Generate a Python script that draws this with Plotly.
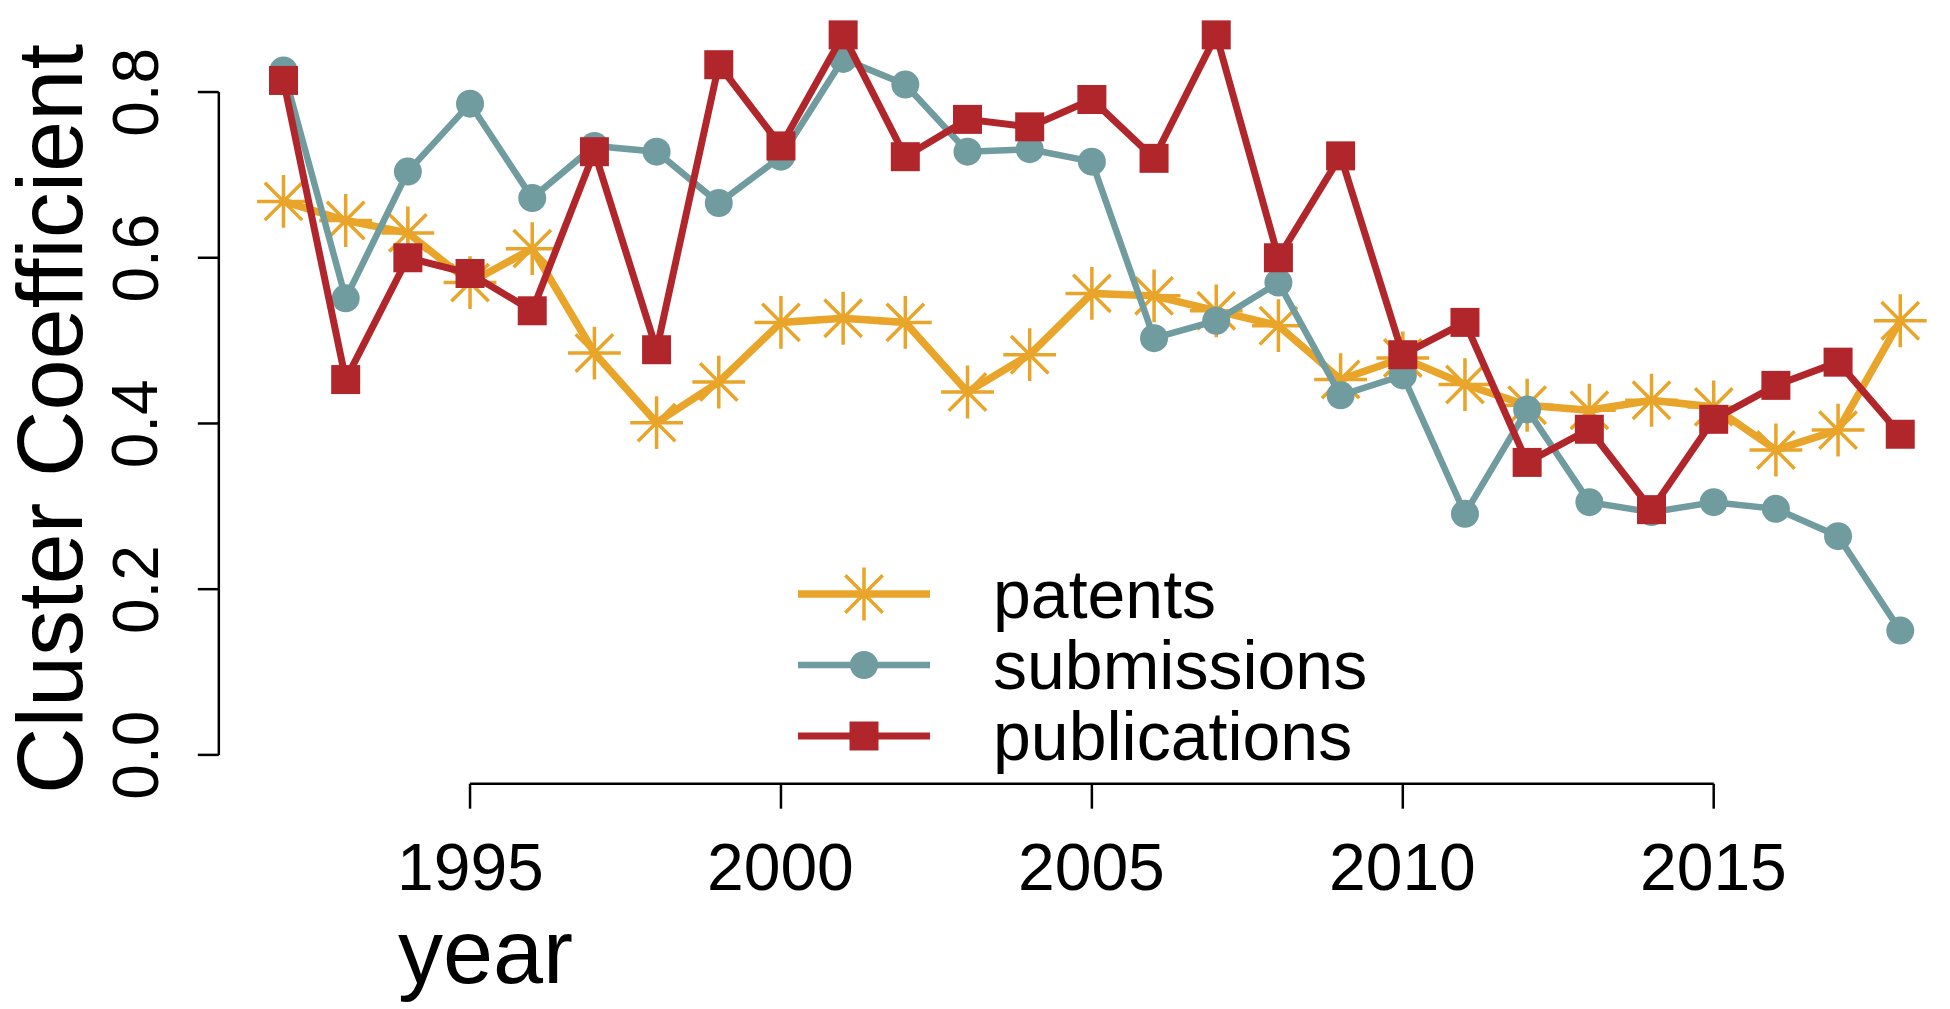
import plotly.graph_objects as go

years = list(range(1992, 2019))
patents = [0.668, 0.645, 0.630, 0.570, 0.611, 0.485, 0.401, 0.450, 0.522, 0.527,
           0.522, 0.438, 0.483, 0.557, 0.554, 0.536, 0.518, 0.453, 0.479, 0.447,
           0.422, 0.416, 0.428, 0.420, 0.368, 0.392, 0.524]
submissions = [0.826, 0.551, 0.704, 0.786, 0.672, 0.735, 0.728, 0.666, 0.722, 0.840,
               0.809, 0.728, 0.731, 0.716, 0.503, 0.524, 0.570, 0.434, 0.458, 0.291,
               0.417, 0.305, 0.293, 0.305, 0.297, 0.264, 0.150]
publications = [0.814, 0.453, 0.600, 0.581, 0.536, 0.728, 0.489, 0.833, 0.735, 0.869,
                0.722, 0.767, 0.758, 0.791, 0.720, 0.869, 0.600, 0.723, 0.483, 0.522,
                0.353, 0.393, 0.296, 0.405, 0.446, 0.474, 0.387]
x_ticks = [1995, 2000, 2005, 2010, 2015]
y_ticks = [0.0, 0.2, 0.4, 0.6, 0.8]
y_tick_labels = ["0.0", "0.2", "0.4", "0.6", "0.8"]
series_names = ["patents", "submissions", "publications"]

ORANGE = "#E9A42A"
TEAL = "#709C9F"
RED = "#B1262B"
FONT = "Liberation Sans, Arial, sans-serif"

W, H = 1950, 1009
# R-style usr extension (4%)
x_axis_pos = years[0] - 0.04 * (years[-1] - years[0])
y_max = max(max(patents), max(submissions), max(publications))
y_axis_pos = 0 - 0.04 * y_max

fig = go.Figure()

styles = {
    "patents": dict(color=ORANGE, symbol="asterisk-open", size=44, lw=7.5, mlw=3.5),
    "submissions": dict(color=TEAL, symbol="circle", size=28, lw=6.5, mlw=0),
    "publications": dict(color=RED, symbol="square", size=29, lw=7, mlw=0),
}
data = {"patents": patents, "submissions": submissions, "publications": publications}

for name in series_names:
    st = styles[name]
    fig.add_trace(go.Scatter(
        x=years, y=data[name], mode="lines+markers", name=name,
        line=dict(color=st["color"], width=st["lw"]),
        marker=dict(symbol=st["symbol"], size=st["size"], color=st["color"],
                    line=dict(color=st["color"], width=st["mlw"])),
        showlegend=False, hoverinfo="skip",
    ))

# Manual legend on a pixel-coordinate overlay axis
leg_x0, leg_x1, leg_xm, leg_tx = 798, 930, 864, 991
leg_rows = [594, 665, 736]
for name, ly in zip(series_names, leg_rows):
    st = styles[name]
    fig.add_trace(go.Scatter(
        x=[leg_x0, leg_xm, leg_x1], y=[ly, ly, ly], mode="lines",
        line=dict(color=st["color"], width=st["lw"]),
        xaxis="x2", yaxis="y2", showlegend=False, hoverinfo="skip"))
    fig.add_trace(go.Scatter(
        x=[leg_xm], y=[ly], mode="markers",
        marker=dict(symbol=st["symbol"], size=st["size"], color=st["color"],
                    line=dict(color=st["color"], width=st["mlw"])),
        xaxis="x2", yaxis="y2", showlegend=False, hoverinfo="skip"))
    fig.add_annotation(x=leg_tx, y=ly, xref="x2", yref="y2", text=name,
                       showarrow=False, xanchor="left", yanchor="middle",
                       font=dict(family=FONT, size=68, color="black"))

shapes = []
axis_line = dict(color="black", width=2.5)
# y axis
shapes.append(dict(type="line", xref="x", yref="y", x0=x_axis_pos, x1=x_axis_pos,
                   y0=y_ticks[0], y1=y_ticks[-1], line=axis_line))
for t in y_ticks:
    shapes.append(dict(type="line", xref="x", yref="y", xsizemode="pixel",
                       xanchor=x_axis_pos, x0=0, x1=-21, y0=t, y1=t, line=axis_line))
# x axis
shapes.append(dict(type="line", xref="x", yref="y", x0=x_ticks[0], x1=x_ticks[-1],
                   y0=y_axis_pos, y1=y_axis_pos, line=axis_line))
for t in x_ticks:
    shapes.append(dict(type="line", xref="x", yref="y", ysizemode="pixel",
                       yanchor=y_axis_pos, y0=0, y1=-25, x0=t, x1=t, line=axis_line))

annotations = []
for t, lab in zip(y_ticks, y_tick_labels):
    annotations.append(dict(x=x_axis_pos, y=t, xref="x", yref="y", text=lab,
                            textangle=-90, showarrow=False, xanchor="center",
                            yanchor="middle", xshift=-83,
                            font=dict(family=FONT, size=64, color="black")))
for t in x_ticks:
    annotations.append(dict(x=t, y=y_axis_pos, xref="x", yref="y", text=str(t),
                            showarrow=False, xanchor="center", yanchor="middle",
                            yshift=-83, font=dict(family=FONT, size=66, color="black")))
annotations.append(dict(x=50, y=419, xref="x2", yref="y2", text="Cluster Coefficient",
                        textangle=-90, showarrow=False, xanchor="center", yanchor="middle",
                        font=dict(family=FONT, size=92, color="black")))
annotations.append(dict(x=396, y=952, xref="x2", yref="y2", text="year",
                        showarrow=False, xanchor="left", yanchor="middle",
                        font=dict(family=FONT, size=90, color="black")))
for a in annotations:
    fig.add_annotation(**a)

hidden = dict(visible=False, showgrid=False, zeroline=False, fixedrange=True)
fig.update_layout(
    width=W, height=H,
    margin=dict(l=0, r=0, t=0, b=0, pad=0),
    paper_bgcolor="white", plot_bgcolor="white",
    xaxis=dict(range=[1987.441, 2018.80], domain=[0, 1], **hidden),
    yaxis=dict(range=[-0.3067, 0.9111], domain=[0, 1], **hidden),
    xaxis2=dict(range=[0, W], overlaying="x", anchor="y2", **hidden),
    yaxis2=dict(range=[H, 0], overlaying="y", anchor="x2", **hidden),
    shapes=shapes,
    showlegend=False,
)

fig.write_html("out.html", config={"displayModeBar": False},
               post_script="document.body.style.margin='0';document.body.style.overflow='hidden';")
